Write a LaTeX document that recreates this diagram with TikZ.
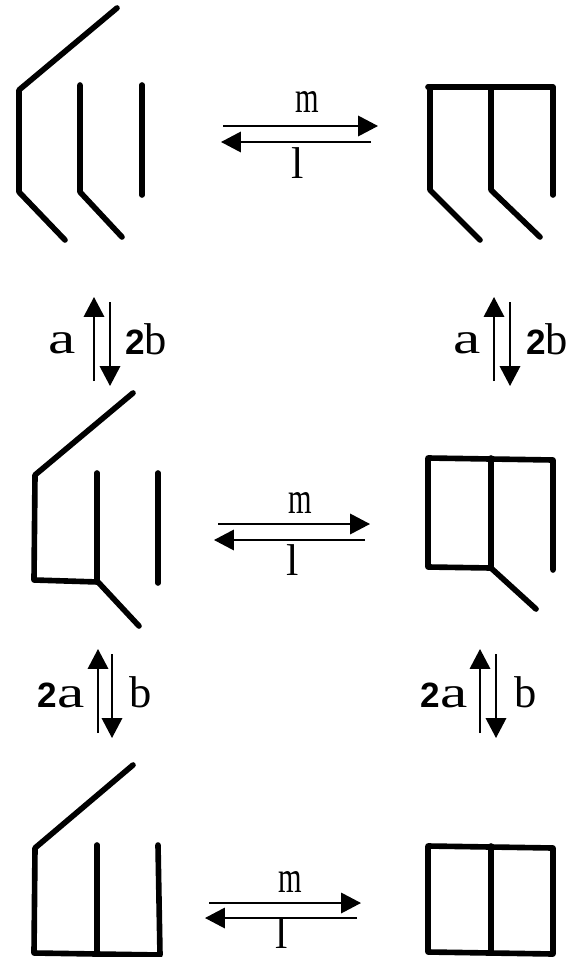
\documentclass[tikz,border=0pt]{standalone}
\usepackage{fontspec}
\usetikzlibrary{arrows.meta}
\setmainfont{Liberation Serif}
\newfontfamily\digitfont{Liberation Sans}
\newcommand{\wida}{\scalebox{1.38}[1]{a}}
\newcommand{\narm}{\scalebox{0.68}[1]{m}}
\newcommand{\two}{{\digitfont\bfseries\fontsize{30}{32}\selectfont 2}}
\begin{document}
\begin{tikzpicture}[x=0.03cm, y=-0.03cm,
    bond/.style={line width=4.8pt, line cap=round, line join=round},
    arrow/.style={line width=1.5pt, -{Triangle[length=17pt,width=17.5pt]}},
    vlabel/.style={font=\fontsize{38}{40}\selectfont, inner sep=0pt},
    hlabel/.style={font=\fontsize{38}{40}\selectfont, inner sep=0pt}]
    \useasboundingbox (0,0) rectangle (567,957);

    % top row
    \draw[bond] (117,8) -- (19,90) -- (19,192) -- (65,240);
    \draw[bond] (80,85) -- (80,192) -- (122,237);
    \draw[bond] (142,85) -- (142,195);
    \draw[bond] (428,87) -- (553,87) -- (553,195);
    \draw[bond] (430,87) -- (430,190) -- (480,240);
    \draw[bond] (491,87) -- (491,190) -- (540,237);

    % middle row
    \draw[bond] (133,393) -- (35,475) -- (34,580) -- (98,582) -- (139,626);
    \draw[bond] (97,473) -- (97,582);
    \draw[bond] (158,473) -- (158,583);
    \draw[bond] (553,570) -- (553,460) -- (428,458) -- (428,567) -- (491,568) -- (536,609);
    \draw[bond] (491,458) -- (491,568);

    % bottom row
    \draw[bond] (133,765) -- (35,848) -- (34,953) -- (160,955) -- (158,845);
    \draw[bond] (97,845) -- (97,953);
    \draw[bond] (428,846) -- (553,848) -- (553,954) -- (428,952) -- cycle;
    \draw[bond] (491,846) -- (491,953);

    % horizontal arrows
    \foreach \name/\xa/\xb/\xc/\xd/\ya/\yb/\xm/\ym/\xl/\yl in {
        top/223/378/371/221/126/142/307/102/298/163,
        mid/218/370/365/214/524/540/300/503/293/560,
        bot/209/361/357/205/903/918/290/882/282/933}{
        \coordinate (\name fs) at (\xa,\ya);
        \coordinate (\name ft) at (\xb,\ya);
        \coordinate (\name bs) at (\xc,\yb);
        \coordinate (\name bt) at (\xd,\yb);
        \draw[arrow] (\name fs) -- (\name ft);
        \draw[arrow] (\name bs) -- (\name bt);
        \node[hlabel] (\name m) at (\xm,\ym) {\narm};
        \node[hlabel] (\name l) at (\xl,\yl) {l};
    }

    % vertical arrows
    \foreach \name/\xu/\xd/\yb/\yt in {
        lu/94/110/381/297, ru/494/510/381/297,
        ll/98/112/733/649, rl/480/496/733/649}{
        \coordinate (\name us) at (\xu,\yb);
        \coordinate (\name ut) at (\xu,\yt);
        \coordinate (\name ds) at (\xd,\yt+5);
        \coordinate (\name dt) at (\xd,\yb+5);
        \draw[arrow] (\name us) -- (\name ut);
        \draw[arrow] (\name ds) -- (\name dt);
    }

    \node[vlabel] (lua) at (62,343) {\wida};
    \node[vlabel] (lub) at (146,339) {\two b};
    \node[vlabel] (rua) at (467,343) {\wida};
    \node[vlabel] (rub) at (547,339) {\two b};
    \node[vlabel] (lla) at (61,695) {\two\wida};
    \node[vlabel] (llb) at (141,692) {b};
    \node[vlabel] (rla) at (444,695) {\two\wida};
    \node[vlabel] (rlb) at (526,692) {b};
\end{tikzpicture}
\end{document}
